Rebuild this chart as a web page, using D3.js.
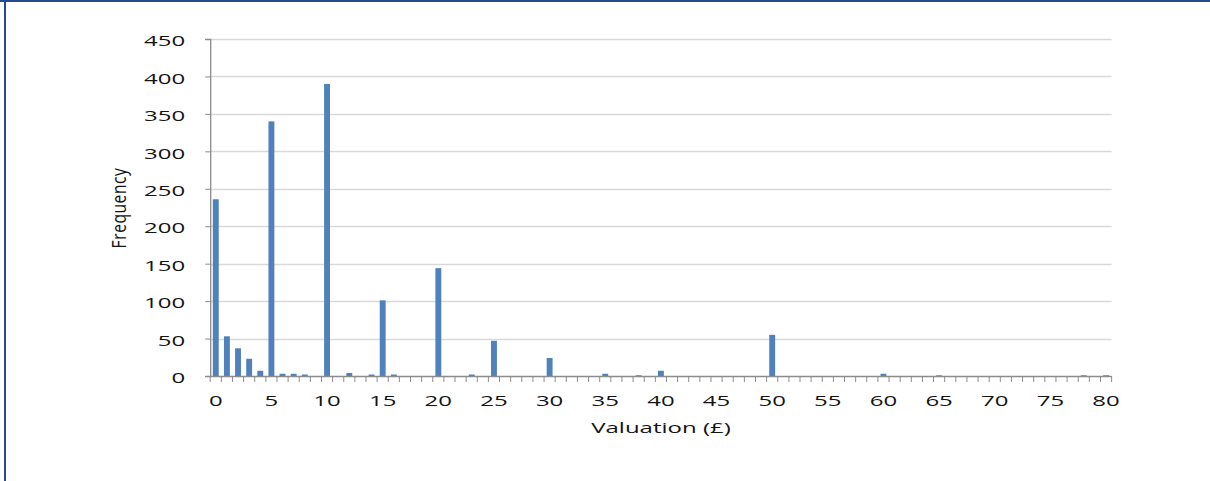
<!DOCTYPE html>
<html>
<head>
<meta charset="utf-8">
<script src="https://cdn.jsdelivr.net/npm/d3@7"></script>
<style>
  html, body { margin: 0; padding: 0; background: #fff; }
  svg { display: block; }
  text { font-family: "Open Sans", "DejaVu Sans", sans-serif; fill: #141414; }
</style>
</head>
<body>
<svg id="chart" width="1210" height="481"></svg>
<script>
// Valuation categories (£0 – £80) and how many responses gave each one
const valuations = d3.range(0, 81);
const frequencies = [
  236, 53, 37, 23, 7, 340, 3, 3, 2, 0,
  390, 0, 4, 0, 2, 101, 2, 0, 0, 0,
  144, 0, 0, 2, 0, 47, 0, 0, 0, 0,
  24, 0, 0, 0, 0, 3, 0, 0, 1, 0,
  7, 0, 0, 0, 0, 0, 0, 0, 0, 0,
  55, 0, 0, 0, 0, 0, 0, 0, 0, 0,
  3, 0, 0, 0, 0, 1, 0, 0, 0, 0,
  0, 0, 0, 0, 0, 0, 0, 0, 1, 0,
  1
];
const yTicks = [0, 50, 100, 150, 200, 250, 300, 350, 400, 450];
const xLabelValues = [0, 5, 10, 15, 20, 25, 30, 35, 40, 45, 50, 55, 60, 65, 70, 75, 80];
const xTitle = "Valuation (£)";
const yTitle = "Frequency";

const data = valuations.map((v, i) => ({ v, f: frequencies[i] }));

const svg = d3.select("#chart");
const W = 1210, H = 481;
const plot = { left: 210.2, right: 1111.6, top: 39, bottom: 376 };
const stretch = 1.6; // horizontal text stretch

// frame
svg.append("rect").attr("x", 0).attr("y", 0).attr("width", W).attr("height", 2).attr("fill", "#254A93");
svg.append("rect").attr("x", 4).attr("y", 0).attr("width", 2).attr("height", H).attr("fill", "#254A93");

const x = d3.scaleBand()
  .domain(valuations)
  .range([plot.left, plot.right])
  .paddingInner(0.47)
  .paddingOuter(0.235);

// category boundaries for tick marks
const step = (plot.right - plot.left) / valuations.length;

const y = d3.scaleLinear().domain([0, 450]).range([plot.bottom, plot.top]);

// gridlines
svg.append("g")
  .selectAll("line")
  .data(yTicks.filter(d => d > 0))
  .join("line")
  .attr("x1", plot.left).attr("x2", plot.right)
  .attr("y1", d => Math.round(y(d)) + 0.5).attr("y2", d => Math.round(y(d)) + 0.5)
  .attr("stroke", "#D9D9D9").attr("stroke-width", 1.3);

// bars
svg.append("g")
  .selectAll("rect")
  .data(data.filter(d => d.f > 0))
  .join("rect")
  .attr("x", d => x(d.v))
  .attr("width", x.bandwidth())
  .attr("y", d => y(d.f))
  .attr("height", d => y(0) - y(d.f))
  .attr("fill", "#4F81BD");

// y axis
const yAxis = svg.append("g").attr("transform", `translate(${plot.left},0)`)
  .call(d3.axisLeft(y).tickValues(yTicks).tickSize(5).tickPadding(22).tickFormat(d3.format("d")));
yAxis.select(".domain").attr("stroke", "#8C8C8C").attr("stroke-width", 1.3);
yAxis.selectAll(".tick line").attr("stroke", "#8C8C8C");
yAxis.selectAll(".tick text")
  .attr("font-size", 15)
  .attr("x", 0).attr("dy", "0.38em")
  .attr("text-anchor", "end")
  .attr("transform", `translate(-25,1) scale(${stretch},1)`);

// x axis line and boundary ticks
const xAxisG = svg.append("g");
xAxisG.append("line")
  .attr("x1", plot.left).attr("x2", plot.right)
  .attr("y1", plot.bottom + 0.5).attr("y2", plot.bottom + 0.5)
  .attr("stroke", "#8C8C8C").attr("stroke-width", 1.3);
xAxisG.selectAll("line.tk")
  .data(d3.range(valuations.length + 1))
  .join("line").attr("class", "tk")
  .attr("x1", i => plot.left + i * step).attr("x2", i => plot.left + i * step)
  .attr("y1", plot.bottom).attr("y2", plot.bottom + 6)
  .attr("stroke", "#8C8C8C").attr("stroke-width", 1);
xAxisG.selectAll("text")
  .data(xLabelValues)
  .join("text")
  .attr("font-size", 15)
  .attr("text-anchor", "middle")
  .attr("transform", d => `translate(${x(d) + x.bandwidth() / 2},406) scale(${stretch},1)`)
  .text(d => d);

// axis titles
svg.append("text")
  .attr("font-size", 15)
  .attr("text-anchor", "middle")
  .attr("transform", `translate(661,433) scale(${stretch},1)`)
  .text(xTitle);

svg.append("text")
  .attr("font-size", 15.5)
  .attr("letter-spacing", 0.6)
  .attr("text-anchor", "middle")
  .attr("transform", `translate(126,208) scale(1.3,1) rotate(-90)`)
  .text(yTitle);
</script>
</body>
</html>
